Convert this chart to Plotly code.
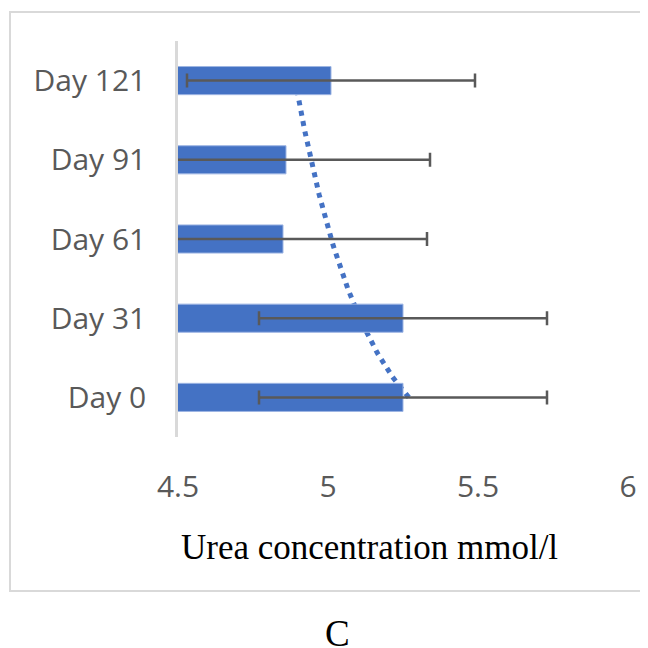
import numpy as np
import plotly.graph_objects as go

categories = ["Day 0", "Day 31", "Day 61", "Day 91", "Day 121"]
urea_mean = [5.25, 5.25, 4.85, 4.86, 5.01]
urea_err = [0.48, 0.48, 0.48, 0.48, 0.48]
x_ticks = [4.5, 5, 5.5, 6]
x_ticklabels = ["4.5", "5", "5.5", "6"]

pos = np.arange(len(categories))

# Logarithmic trendline (Excel style: x = 1..n)
xn = pos + 1
a, b = np.polyfit(np.log(xn), urea_mean, 1)
tx = np.linspace(1, len(categories), 200)
ty = a * np.log(tx) + b

BLUE = "#4472C4"
GREY = "#595959"

# page has an 8px body margin; figure is 640x640 so it fits the 648 window
OFF = 8
L, T = 178 - OFF, 41 - OFF
W = H = 640

fig = go.Figure()

fig.add_trace(go.Scatter(
    x=ty, y=tx - 1, mode="lines",
    line=dict(color=BLUE, width=5, dash="5px,5.5px"),
    hoverinfo="skip", showlegend=False, yaxis="y",
))

fig.add_trace(go.Bar(
    y=pos, x=urea_mean, orientation="h", width=0.355,
    marker=dict(color=BLUE, line=dict(color="#9DB5E3", width=1)),
    error_x=dict(type="data", array=urea_err, visible=True,
                 color=GREY, thickness=2.5, width=7),
    showlegend=False, yaxis="y2",
))

fig.update_layout(
    width=W, height=H,
    margin=dict(l=L, r=W - (628 - OFF), t=T, b=H - (437 - OFF)),
    plot_bgcolor="white", paper_bgcolor="white",
    xaxis=dict(range=[4.5, 6], tickvals=x_ticks, ticktext=x_ticklabels,
               showgrid=False, zeroline=False, showline=False,
               ticklabelstandoff=29,
               tickfont=dict(family="Open Sans", size=30, color=GREY)),
    yaxis=dict(range=[-0.5, 4.5], tickvals=list(pos), ticktext=categories,
               showgrid=False, zeroline=False, showline=True,
               linecolor="#D9D9D9", linewidth=2.5,
               ticklabelstandoff=23,
               tickfont=dict(family="Open Sans", size=30, color=GREY)),
    yaxis2=dict(range=[-0.5, 4.5], overlaying="y", visible=False),
    shapes=[dict(type="rect", xref="paper", yref="paper",
                 x0=(10 - 178) / 450, x1=(670 - 178) / 450,
                 y0=(437 - 591) / 396, y1=(437 - 12) / 396,
                 line=dict(color="#D9D9D9", width=2), layer="below")],
    annotations=[
        dict(text="Urea concentration mmol/l", xref="paper", yref="paper",
             x=(369 - 178) / 450, y=(437 - 547) / 396, showarrow=False,
             xanchor="center", yanchor="middle",
             font=dict(family="Liberation Serif", size=35, color="black")),
        dict(text="C", xref="paper", yref="paper",
             x=(337 - 178) / 450, y=(437 - 633) / 396, showarrow=False,
             xanchor="center", yanchor="middle",
             font=dict(family="Liberation Serif", size=37, color="black")),
    ],
)

fig.write_html("out.html")
